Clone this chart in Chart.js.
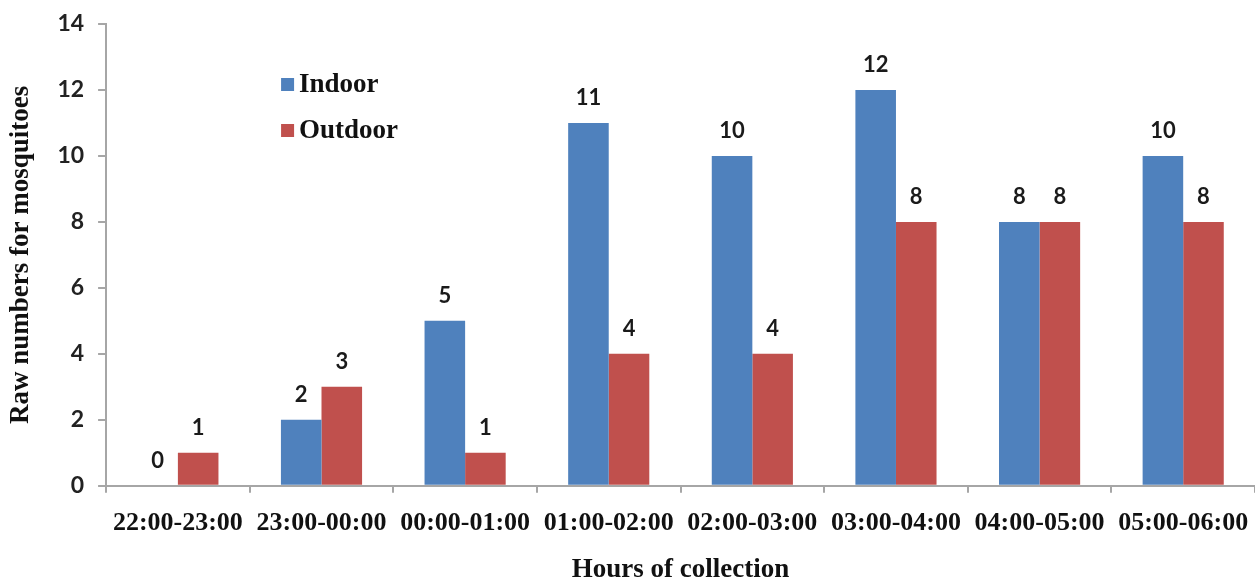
<!DOCTYPE html>
<html>
<head>
<meta charset="utf-8">
<script src="https://cdn.jsdelivr.net/npm/chart.js@4/dist/chart.umd.min.js"></script>
<style>
  html, body { margin: 0; padding: 0; background: #fff; }
  #wrap { width: 1255px; height: 584px; }
</style>
</head>
<body>
<div id="wrap"><canvas id="chart"></canvas></div>
<script>
// values
const hours = ['22:00-23:00', '23:00-00:00', '00:00-01:00', '01:00-02:00',
               '02:00-03:00', '03:00-04:00', '04:00-05:00', '05:00-06:00'];
const indoor = [0, 2, 5, 11, 10, 12, 8, 10];
const outdoor = [1, 3, 1, 4, 4, 8, 8, 8];
const yTicks = [0, 2, 4, 6, 8, 10, 12, 14];

const BLUE = '#4F81BD';
const RED = '#C0504D';
const AXIS = '#A6A6A6';
const serif = '"Liberation Serif", "Times New Roman", serif';
const sans = 'Lato, "Open Sans", sans-serif';

// numbers above each bar
const valueLabels = {
    id: 'valueLabels',
    afterDatasetsDraw(chart) {
        const ctx = chart.ctx;
        ctx.save();
        ctx.font = 'bold 22px ' + sans;
        ctx.fillStyle = '#1a1a1a';
        ctx.textAlign = 'center';
        ctx.textBaseline = 'middle';
        chart.data.datasets.forEach((ds, i) => {
            chart.getDatasetMeta(i).data.forEach((bar, j) => {
                ctx.fillText(String(ds.data[j]), bar.x, bar.y - 25);
            });
        });
        ctx.restore();
    }
};

// legend sitting inside the plot, upper left
const insideLegend = {
    id: 'insideLegend',
    afterDraw(chart) {
        const ctx = chart.ctx;
        const area = chart.chartArea;
        const x = area.left + 175;
        let y = area.top + 61;
        ctx.save();
        ctx.font = 'bold 27px ' + serif;
        ctx.textBaseline = 'middle';
        chart.data.datasets.forEach(ds => {
            ctx.fillStyle = ds.backgroundColor;
            ctx.fillRect(x, y - 7, 13, 13);
            ctx.fillStyle = '#111';
            ctx.fillText(ds.label, x + 18, y);
            y += 46;
        });
        ctx.restore();
    }
};

new Chart(document.getElementById('chart'), {
    type: 'bar',
    data: {
        labels: hours,
        datasets: [
            { label: 'Indoor', data: indoor, backgroundColor: BLUE },
            { label: 'Outdoor', data: outdoor, backgroundColor: RED }
        ]
    },
    options: {
        responsive: true,
        maintainAspectRatio: false,
        animation: false,
        categoryPercentage: 0.565,
        barPercentage: 1.0,
        layout: { padding: { top: 0, left: 5, right: 0, bottom: 0 } },
        plugins: {
            legend: { display: false },
            tooltip: { enabled: false }
        },
        scales: {
            x: {
                // let the plot run to the right edge like the original
                afterFit(scale) { scale.paddingRight = 0; },
                grid: { drawOnChartArea: false, drawTicks: true, tickLength: 7, color: AXIS, lineWidth: 2 },
                border: { color: AXIS, width: 2 },
                ticks: {
                    color: '#111',
                    font: { family: serif, size: 26, weight: 'bold' },
                    maxRotation: 0,
                    autoSkip: false,
                    padding: 15
                },
                title: {
                    display: true,
                    text: 'Hours of collection',
                    color: '#111',
                    font: { family: serif, size: 27, weight: 'bold', lineHeight: 1 },
                    padding: { top: 3, bottom: 0 }
                }
            },
            y: {
                min: 0,
                max: 14,
                afterBuildTicks(scale) {
                    scale.ticks = yTicks.map(v => ({ value: v }));
                },
                afterFit(scale) { scale.paddingTop = 24; },
                grid: { drawOnChartArea: false, drawTicks: true, tickLength: 8, color: AXIS, lineWidth: 2 },
                border: { color: AXIS, width: 2 },
                ticks: {
                    color: '#222',
                    font: { family: sans, size: 23, weight: 'bold' },
                    padding: 14
                },
                title: {
                    display: true,
                    text: 'Raw numbers for mosquitoes',
                    color: '#111',
                    font: { family: serif, size: 27, weight: 'bold' },
                    padding: { top: 0, bottom: 6 }
                }
            }
        }
    },
    plugins: [valueLabels, insideLegend]
});
</script>
</body>
</html>
